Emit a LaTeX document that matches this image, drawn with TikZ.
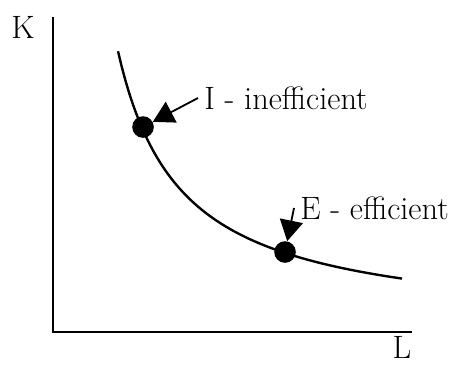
\documentclass[tikz,border=0pt]{standalone}
\usetikzlibrary{arrows.meta}

\begin{document}
\begin{tikzpicture}[x=0.025cm,y=0.025cm,
  axis/.style={line width=1.4pt},
  dot/.style={circle,fill=black,inner sep=0pt,minimum size=0.54cm},
  pointer/.style={line width=1.3pt,-{Triangle[length=0.52cm,width=0.58cm]}},
  lab/.style={font=\fontsize{23}{27}\selectfont,inner sep=0.15cm}]
\useasboundingbox (0,0) rectangle (452,364);
\coordinate (O) at (53,32);
\coordinate (Ktop) at (53,347);
\coordinate (Lend) at (412,32);
\draw[axis] (Ktop)--(O)--(Lend);
\node[lab,inner sep=0pt] (K) at (23,337) {K};
\node[lab,inner sep=0pt] (L) at (402,17) {L};
\draw[line width=1.7pt] plot[domain=118:402,samples=80] (\x,{35+175/((\x-55)/100)});
\node[dot] (I) at (143,237) {};
\node[dot] (E) at (285,112) {};
\node[lab,anchor=west] (Ilab) at (198,266) {I - inefficient};
\node[lab,anchor=west] (Elab) at (294,156) {E - efficient};
\draw[pointer] (Ilab.west)--(I);
\draw[pointer] (Elab.west)--(E);
\end{tikzpicture}
\end{document}
